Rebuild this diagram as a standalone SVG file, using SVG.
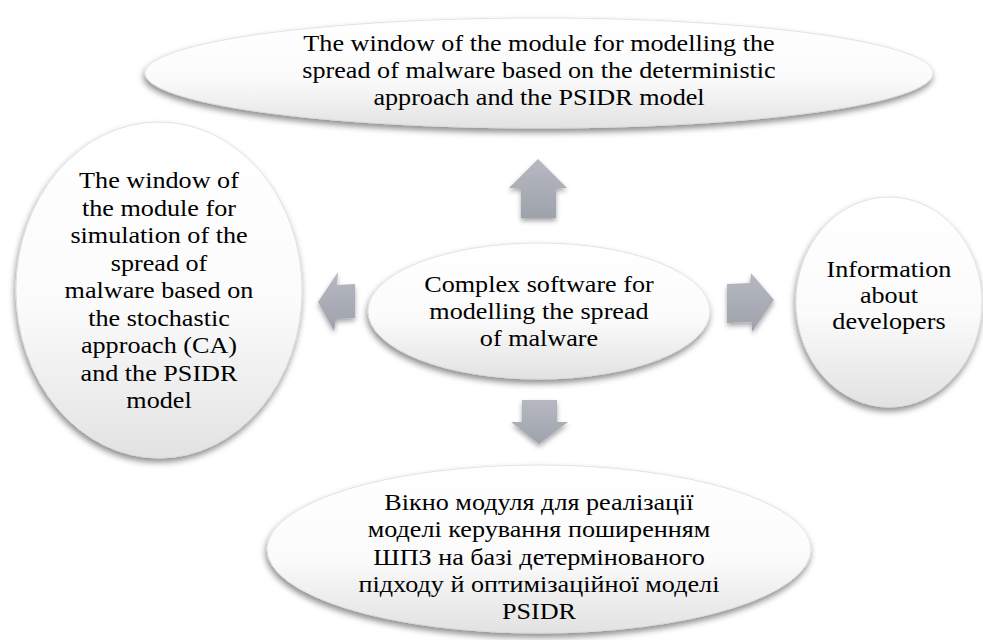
<svg xmlns="http://www.w3.org/2000/svg" width="983" height="640" viewBox="0 0 983 640">
<style>
.node{fill:url(#nodeGrad);stroke:#dcdcdc;stroke-width:0.8;filter:url(#shadow)}
.arrow{fill:url(#arrGrad);filter:url(#ashadow)}
text{font-family:"Liberation Serif","Times New Roman","Noto Serif",serif;font-size:24px;fill:#000;text-anchor:middle}
</style>
<defs>
<linearGradient id="nodeGrad" x1="0" y1="0" x2="0" y2="1">
<stop offset="0" stop-color="#ffffff"/>
<stop offset="0.55" stop-color="#fbfbfb"/>
<stop offset="1" stop-color="#e2e2e2"/>
</linearGradient>
<linearGradient id="arrGrad" x1="0" y1="0" x2="0" y2="1">
<stop offset="0" stop-color="#b6b9c1"/>
<stop offset="1" stop-color="#9ea2ab"/>
</linearGradient>
<filter id="shadow" x="-20%" y="-20%" width="140%" height="150%">
<feDropShadow dx="-1" dy="4" stdDeviation="3" flood-color="#000" flood-opacity="0.45"/>
</filter>
<filter id="ashadow" x="-30%" y="-30%" width="160%" height="170%">
<feDropShadow dx="0" dy="3" stdDeviation="2.5" flood-color="#000" flood-opacity="0.35"/>
</filter>
</defs>
<rect width="983" height="640" fill="#fff"/>
<g id="connectors">
<polygon class="arrow" points="538,159 567,188 556,188 556,218 521,218 521,188 509,188"/>
<polygon class="arrow" points="539,444 568,422 557,422 557,400 522,400 522,422 511,422"/>
<polygon class="arrow" points="318,302 338,272 337,285 355,284 355,318 336,319 334,331"/>
<polygon class="arrow" points="727,284 750,283 751,273 774,300 752,332 752,322 727,323"/>
</g>
<g id="node-top">
<ellipse class="node" cx="539" cy="73" rx="394" ry="55"/>
<g transform="matrix(1.09 0 0 1 -48.51 0)">
<text x="539" y="51">The window of the module for modelling the</text>
<text x="539" y="78">spread of malware based on the deterministic</text>
<text x="539" y="105">approach and the PSIDR model</text>
</g>
</g>
<g id="node-left">
<ellipse class="node" cx="159" cy="290" rx="143" ry="168"/>
<g transform="matrix(1.09 0 0 1 -14.31 0)">
<text x="159" y="188">The window of</text>
<text x="159" y="216">the module for</text>
<text x="159" y="243">simulation of the</text>
<text x="159" y="271">spread of</text>
<text x="159" y="298">malware based on</text>
<text x="159" y="326">the stochastic</text>
<text x="159" y="353">approach (CA)</text>
<text x="159" y="381">and the PSIDR</text>
<text x="159" y="408">model</text>
</g>
</g>
<g id="node-center">
<ellipse class="node" cx="539" cy="311" rx="171" ry="68"/>
<g transform="matrix(1.09 0 0 1 -48.51 0)">
<text x="539" y="292">Complex software for</text>
<text x="539" y="319">modelling the spread</text>
<text x="539" y="346">of malware</text>
</g>
</g>
<g id="node-right">
<ellipse class="node" cx="889" cy="302" rx="93" ry="105"/>
<g transform="matrix(1.09 0 0 1 -80.01 0)">
<text x="889" y="277">Information</text>
<text x="889" y="303">about</text>
<text x="889" y="329">developers</text>
</g>
</g>
<g id="node-bottom">
<ellipse class="node" cx="539" cy="549" rx="272" ry="84"/>
<g transform="matrix(1.09 0 0 1 -48.51 0)">
<text x="539" y="510">Вікно модуля для реалізації</text>
<text x="539" y="537">моделі керування поширенням</text>
<text x="539" y="565">ШПЗ на базі детермінованого</text>
<text x="539" y="592">підходу й оптимізаційної моделі</text>
<text x="539" y="619">PSIDR</text>
</g>
</g>
</svg>
